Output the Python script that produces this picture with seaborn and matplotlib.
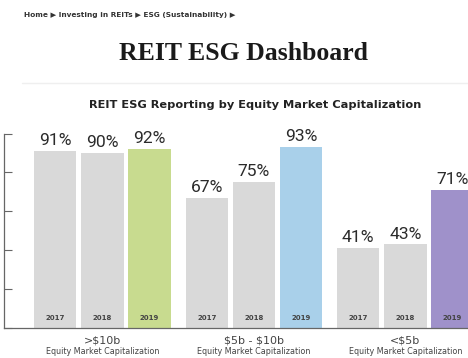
import matplotlib
matplotlib.use("Agg")
import matplotlib.pyplot as plt
import seaborn as sns
import pandas as pd
from matplotlib.lines import Line2D

# Share of REITs reporting ESG, by equity market capitalization and year
groups = [">$10b", "$5b - $10b", "<$5b"]
years = ["2017", "2018", "2019"]
values_2017 = [91, 67, 41]
values_2018 = [90, 75, 43]
values_2019 = [92, 93, 71]
highlight_colors = ["#c8db8f", "#a9d0ea", "#9f91ca"]
base_color = "#d9d9d9"

rows = []
for g, a, b, c in zip(groups, values_2017, values_2018, values_2019):
    rows += [(g, "2017", a), (g, "2018", b), (g, "2019", c)]
df = pd.DataFrame(rows, columns=["group", "year", "value"])

sns.set_theme(style="white")
plt.rcParams["font.family"] = ["DejaVu Sans"]

fig = plt.figure(figsize=(4.68, 3.58), dpi=100)
fig.patch.set_facecolor("white")

# page header
fig.text(24 / 468, 1 - 15 / 358, "Home \u25b6 Investing in REITs \u25b6 ESG (Sustainability) \u25b6",
         fontsize=5.3, fontweight="bold", color="#333333", ha="left", va="center",
         parse_math=False)
fig.text(243.5 / 468, 1 - 54 / 358, "REIT ESG Dashboard", fontsize=18.5, fontweight="bold",
         family="Liberation Serif", color="#1a1a1a", ha="center", va="center")
fig.add_artist(Line2D([22 / 468, 1], [1 - 83 / 358] * 2, color="#efefef", lw=1))
fig.text(255 / 468, 1 - 105 / 358, "REIT ESG Reporting by Equity Market Capitalization",
         fontsize=8.2, fontweight="bold", color="#222222", ha="center", va="center")

ax = fig.add_axes([3.5 / 468, 30 / 358, 464.5 / 468, 194.5 / 358])
sns.barplot(data=df, x="group", y="value", hue="year", order=groups, hue_order=years,
            palette=[base_color] * 3, width=0.934, gap=0.1, legend=False, ax=ax,
            saturation=1, edgecolor="none", linewidth=0)

# 2019 bars carry a colour of their own in each group
for i, bar in enumerate(ax.containers[2]):
    bar.set_facecolor(highlight_colors[i])

for cont in ax.containers:
    ax.bar_label(cont, labels=[f"{v:.0f}%" for v in cont.datavalues], padding=2,
                 fontsize=12.6, family="Roboto", color="#2b2b2b", clip_on=False)

for cont, yr in zip(ax.containers, years):
    for bar in cont:
        ax.text(bar.get_x() + bar.get_width() / 2, 5, yr, ha="center", va="center",
                fontsize=5, fontweight="bold", color="#444444")

for i, g in enumerate(groups):
    ax.text(i, -0.062, g, transform=ax.get_xaxis_transform(), ha="center", va="center",
            fontsize=8, color="#444444", parse_math=False)
    ax.text(i, -0.122, "Equity Market Capitalization", transform=ax.get_xaxis_transform(),
            ha="center", va="center", fontsize=5.8, color="#444444")

ax.set_xlim(-0.653, 2.413)
ax.set_ylim(0, 100)
ax.set_yticks([0, 20, 40, 60, 80, 100])
ax.set_yticklabels([])
ax.set_xticks([])
ax.set_xlabel("")
ax.set_ylabel("")
ax.tick_params(axis="y", direction="in", length=6, width=0.8, color="#666666", left=True)
for side in ["top", "right"]:
    ax.spines[side].set_visible(False)
for side in ["left", "bottom"]:
    ax.spines[side].set_color("#666666")
    ax.spines[side].set_linewidth(0.9)
ax.set_facecolor("white")

fig.savefig("out.png", dpi=100, facecolor="white")
